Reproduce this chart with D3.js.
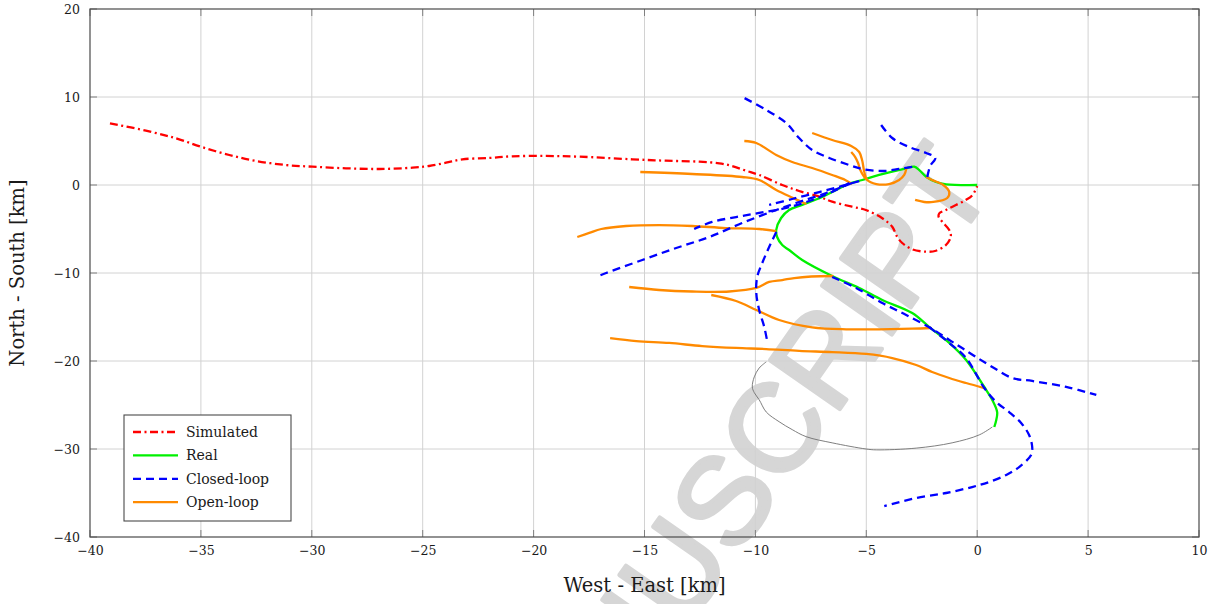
<!DOCTYPE html>
<html>
<head>
<meta charset="utf-8">
<script src="https://cdn.jsdelivr.net/npm/d3@7"></script>
<style>
  body { margin: 0; background: #fff; }
  svg { display: block; }
</style>
</head>
<body>
<svg id="chart" width="1217" height="604"></svg>
<script>
// ---- tick values ----
const xTicks = [-40, -35, -30, -25, -20, -15, -10, -5, 0, 5, 10];
const yTicks = [-40, -30, -20, -10, 0, 10, 20];

// ---- trajectories, [West-East km, North-South km] ----
const simulated = [[-39.1,7.01],[-37.48,6.17],[-36.13,5.31],[-35.0,4.35],[-33.72,3.41],[-32.52,2.73],[-31.17,2.27],[-29.97,2.08],[-28.46,1.9],[-26.96,1.82],[-25.46,1.97],[-24.71,2.16],[-23.95,2.53],[-23.21,2.92],[-22.0,3.07],[-20.97,3.26],[-19.45,3.3],[-17.94,3.22],[-15.55,2.92],[-14.04,2.76],[-12.53,2.65],[-11.63,2.47],[-11.05,2.16],[-10.43,1.63],[-9.83,1.14],[-8.79,0],[-8.03,-0.68],[-7.12,-1.33],[-6.54,-1.9],[-5.64,-2.47],[-5.02,-2.84],[-4.28,-3.78],[-3.83,-4.74],[-3.61,-5.88],[-3.38,-6.59],[-2.93,-7.31],[-2.31,-7.58],[-1.86,-7.47],[-1.41,-6.82],[-1.19,-5.88],[-1.26,-5.11],[-1.58,-4.17],[-1.74,-3.6],[-1.71,-3.22],[-1.41,-2.84],[-0.96,-2.27],[-0.51,-1.7],[-0.21,-1.14],[0,-0.11]];

const real = [[0,0],[-1.4,0.08],[-1.85,0.34],[-2.3,0.94],[-2.61,1.7],[-2.84,2.08],[-3.2,1.9],[-4.42,1.14],[-5.18,0.57],[-5.77,0.17],[-6.36,-0.57],[-6.99,-1.36],[-7.89,-2.27],[-8.48,-2.84],[-8.84,-3.75],[-9.06,-5.11],[-9.02,-5.91],[-8.79,-6.82],[-8.48,-7.39],[-7.89,-8.52],[-6.54,-10.34],[-5.32,-11.7],[-4.28,-13.07],[-2.93,-14.55],[-2.16,-16.14],[-1.26,-17.95],[-0.5,-19.89],[0.32,-22.95],[0.68,-24.43],[0.9,-25.8],[0.86,-26.7],[0.77,-27.5]];

// thin grey outline south of the track
const outline = [[-9.51,-20.1],[-9.83,-20.8],[-10.05,-21.8],[-10.14,-22.95],[-10.05,-23.6],[-9.83,-24.4],[-9.51,-25.8],[-8.93,-26.9],[-8.34,-27.8],[-7.71,-28.6],[-6.54,-29.3],[-5.01,-30.0],[-4.55,-30.1],[-2.75,-29.9],[-1.13,-29.3],[0.09,-28.4],[0.68,-27.5]];

// closed-loop predictions
const closedA = [[-2.93,2.05],[-3.52,1.82],[-4.28,1.59],[-5.18,1.82],[-5.77,2.27],[-6.67,3.07],[-7.44,3.98],[-8.03,5.34],[-8.61,7.05],[-9.51,8.52],[-10.5,9.89]];
const closedB = [[-2.25,0.91],[-2.12,2.16],[-1.89,3.07],[-2.3,3.64],[-3.07,4.32],[-3.83,5.34],[-4.33,6.82]];
const closedC = [[-5.64,0.23],[-6.81,-0.91],[-8.03,-1.93],[-9.06,-2.84],[-10.6,-4.32],[-12.08,-5.91],[-13.57,-7.16],[-15.1,-8.52],[-16.73,-10.0],[-17.18,-10.45]];
const closedD = [[-5.77,0.23],[-6.36,-0.57],[-7.44,-1.7],[-8.61,-2.61],[-9.83,-3.18],[-10.87,-3.64],[-11.95,-4.2],[-12.76,-5.0]];
const closedE = [[-5.32,0.45],[-6.09,-0.11],[-7.12,-0.8],[-8.34,-1.59],[-9.38,-2.27]];
const closedF = [[-9.06,-5.34],[-9.38,-7.05],[-9.69,-8.86],[-9.92,-10.45],[-9.96,-12.27],[-9.83,-14.2],[-9.6,-16.14],[-9.47,-17.73]];
const closedG = [[-6.54,-10.45],[-5.46,-11.7],[-4.28,-13.41],[-3.2,-14.77],[-2.03,-16.36],[-1.26,-17.61],[-0.68,-18.52],[-0.05,-19.55],[0.68,-20.68],[1.58,-21.93],[2.48,-22.27],[4.01,-22.95],[5.37,-23.86]];
const closedH = [[-2.16,-16.14],[-1.26,-17.95],[-0.5,-19.66],[0.32,-23.07],[0.86,-24.66],[1.44,-25.8],[1.98,-27.05],[2.34,-28.41],[2.48,-29.77],[2.43,-30.68],[1.89,-32.05],[1.31,-32.95],[0.54,-33.75],[-0.23,-34.32],[-1.4,-35.0],[-2.75,-35.57],[-4.19,-36.48]];

// open-loop predictions
const openA = [[-5.64,0.11],[-5.95,0.57],[-6.54,1.14],[-7.44,1.93],[-8.34,2.61],[-9.06,3.41],[-9.96,4.77],[-10.5,5.0]];
const openB = [[-3.2,1.82],[-3.29,1.14],[-3.52,0.57],[-3.97,0.11],[-4.55,0.11],[-4.96,0.57],[-5.09,1.48],[-5.18,2.73],[-5.32,3.75],[-5.68,4.43],[-6.54,5.11],[-7.44,5.91]];
const openC = [[-4.96,0.57],[-5.09,0.91],[-5.27,1.7],[-5.37,2.5],[-5.5,3.18],[-5.68,3.75]];
const openD = [[-2.3,0.91],[-2.03,0.57],[-1.53,0.0],[-1.26,-0.8],[-1.35,-1.48],[-1.98,-1.93],[-2.39,-1.93],[-2.8,-1.7]];
const openE = [[-7.71,-2.16],[-8.3,-1.48],[-9.06,-0.57],[-9.83,0.57],[-10.6,0.91],[-12.85,1.25],[-15.19,1.48]];
const openF = [[-9.06,-5.23],[-9.83,-5.0],[-11.32,-4.89],[-12.85,-4.66],[-14.34,-4.55],[-15.83,-4.66],[-16.95,-5.0],[-17.49,-5.45],[-18.03,-5.91]];
const openG = [[-6.49,-10.34],[-7.48,-10.4],[-8.25,-10.57],[-8.79,-10.8],[-9.38,-11.02],[-9.96,-11.7],[-11.18,-12.1],[-12.85,-12.1],[-14.34,-11.93],[-15.69,-11.59]];
const openH = [[-2.07,-16.25],[-2.93,-16.33],[-4.42,-16.4],[-5.91,-16.4],[-7.44,-16.17],[-8.93,-15.34],[-9.96,-14.2],[-10.87,-13.18],[-11.99,-12.5]];
const openI = [[0.32,-23.07],[-0.5,-22.5],[-1.26,-21.93],[-2.03,-21.25],[-2.75,-20.45],[-3.83,-19.66],[-5.0,-19.2],[-6.54,-18.98],[-8.03,-18.86],[-9.51,-18.64],[-10.87,-18.52],[-12.4,-18.3],[-13.89,-17.95],[-15.37,-17.73],[-16.55,-17.39]];

const closedLoop = [closedA, closedB, closedC, closedD, closedE, closedF, closedG, closedH];
const openLoop = [openA, openB, openC, openD, openE, openF, openG, openH, openI];

const legendLabels = ["Simulated", "Real", "Closed-loop", "Open-loop"];

// ---- layout ----
const W = 1217, H = 604;
const plot = { left: 90, right: 1199, top: 9, bottom: 537 };
const serif = "'DejaVu Serif', 'Liberation Serif', serif";

const svg = d3.select("#chart");
const x = d3.scaleLinear().domain([-40, 10]).range([plot.left, plot.right]);
const y = d3.scaleLinear().domain([-40, 20]).range([plot.bottom, plot.top]);

const styles = {
  simulated: { color: "#ff0000", dash: "8 3.5 2 3.5", width: 2.3 },
  real:      { color: "#00f000", dash: null, width: 2.3 },
  closed:    { color: "#0000ff", dash: "8 5", width: 2.3 },
  open:      { color: "#ff8a00", dash: null, width: 2.3 }
};

svg.append("rect").attr("width", W).attr("height", H).attr("fill", "#fff");

// watermark
svg.append("text")
  .attr("transform", "translate(996,186) rotate(-55)")
  .attr("text-anchor", "end")
  .attr("font-family", "'Liberation Sans', Arial, sans-serif")
  .attr("font-size", 124)
  .attr("fill", "#d6d6d6")
  .attr("stroke", "#d6d6d6")
  .attr("stroke-width", 4)
  .attr("stroke-linejoin", "round")
  .text("MANUSCRIPT");

// grid
const grid = svg.append("g").attr("stroke", "#d2d2d2").attr("stroke-width", 1);
xTicks.slice(1, -1).forEach(v => grid.append("line")
  .attr("x1", x(v)).attr("x2", x(v)).attr("y1", plot.top).attr("y2", plot.bottom));
yTicks.slice(1, -1).forEach(v => grid.append("line")
  .attr("x1", plot.left).attr("x2", plot.right).attr("y1", y(v)).attr("y2", y(v)));

// clip for the data lines
svg.append("clipPath").attr("id", "plotclip").append("rect")
  .attr("x", plot.left).attr("y", plot.top)
  .attr("width", plot.right - plot.left).attr("height", plot.bottom - plot.top);

const line = d3.line().x(d => x(d[0])).y(d => y(d[1])).curve(d3.curveCatmullRom.alpha(0.5));
const data = svg.append("g").attr("clip-path", "url(#plotclip)")
  .attr("fill", "none").attr("stroke-linejoin", "round");

function draw(points, st) {
  const p = data.append("path").attr("d", line(points))
    .attr("stroke", st.color).attr("stroke-width", st.width);
  if (st.dash) p.attr("stroke-dasharray", st.dash);
}

data.append("path").attr("d", line(outline)).attr("stroke", "#707070").attr("stroke-width", 0.9);
draw(simulated, styles.simulated);
draw(real, styles.real);
openLoop.forEach(s => draw(s, styles.open));
closedLoop.forEach(s => draw(s, styles.closed));

// ticks (inside) on all four sides
const tickLen = 7;
const ticks = svg.append("g").attr("stroke", "#808080").attr("stroke-width", 1);
xTicks.forEach(v => {
  ticks.append("line").attr("x1", x(v)).attr("x2", x(v)).attr("y1", plot.bottom).attr("y2", plot.bottom - tickLen);
  ticks.append("line").attr("x1", x(v)).attr("x2", x(v)).attr("y1", plot.top).attr("y2", plot.top + tickLen);
});
yTicks.forEach(v => {
  ticks.append("line").attr("x1", plot.left).attr("x2", plot.left + tickLen).attr("y1", y(v)).attr("y2", y(v));
  ticks.append("line").attr("x1", plot.right).attr("x2", plot.right - tickLen).attr("y1", y(v)).attr("y2", y(v));
});

// frame
svg.append("rect")
  .attr("x", plot.left).attr("y", plot.top)
  .attr("width", plot.right - plot.left).attr("height", plot.bottom - plot.top)
  .attr("fill", "none").attr("stroke", "#4a4a4a").attr("stroke-width", 1.2);

// tick labels via d3 axes (tick marks hidden, drawn above)
const fmt = v => (v < 0 ? "\u2212" + Math.abs(v) : String(v));
const xAxis = svg.append("g").attr("transform", `translate(0,${plot.bottom})`)
  .call(d3.axisBottom(x).tickValues(xTicks).tickSize(0).tickPadding(9).tickFormat(fmt));
const yAxis = svg.append("g").attr("transform", `translate(${plot.left},0)`)
  .call(d3.axisLeft(y).tickValues(yTicks).tickSize(0).tickPadding(10).tickFormat(fmt));
[xAxis, yAxis].forEach(a => {
  a.select(".domain").remove();
  a.selectAll("text").attr("font-family", serif).attr("font-size", 12.5).attr("fill", "#1a1a1a");
});

// axis titles
svg.append("text")
  .attr("x", (plot.left + plot.right) / 2).attr("y", 592)
  .attr("text-anchor", "middle").attr("font-family", serif).attr("font-size", 19.5)
  .attr("fill", "#1a1a1a").text("West - East [km]");
svg.append("text")
  .attr("transform", `translate(24,${(plot.top + plot.bottom) / 2}) rotate(-90)`)
  .attr("text-anchor", "middle").attr("font-family", serif).attr("font-size", 19.5)
  .attr("fill", "#1a1a1a").text("North - South [km]");

// legend
const lg = svg.append("g").attr("transform", "translate(124,415)");
lg.append("rect").attr("width", 167).attr("height", 106)
  .attr("fill", "#fff").attr("stroke", "#4a4a4a").attr("stroke-width", 1.1);
const legendStyles = [styles.simulated, styles.real, styles.closed, styles.open];
legendLabels.forEach((label, i) => {
  const yy = 17 + i * 23.4;
  const st = legendStyles[i];
  const l = lg.append("line").attr("x1", 9).attr("x2", 54).attr("y1", yy).attr("y2", yy)
    .attr("stroke", st.color).attr("stroke-width", st.width);
  if (st.dash) l.attr("stroke-dasharray", st.dash);
  lg.append("text").attr("x", 62).attr("y", yy).attr("dy", "0.35em")
    .attr("font-family", serif).attr("font-size", 14).attr("fill", "#1a1a1a").text(label);
});
</script>
</body>
</html>
